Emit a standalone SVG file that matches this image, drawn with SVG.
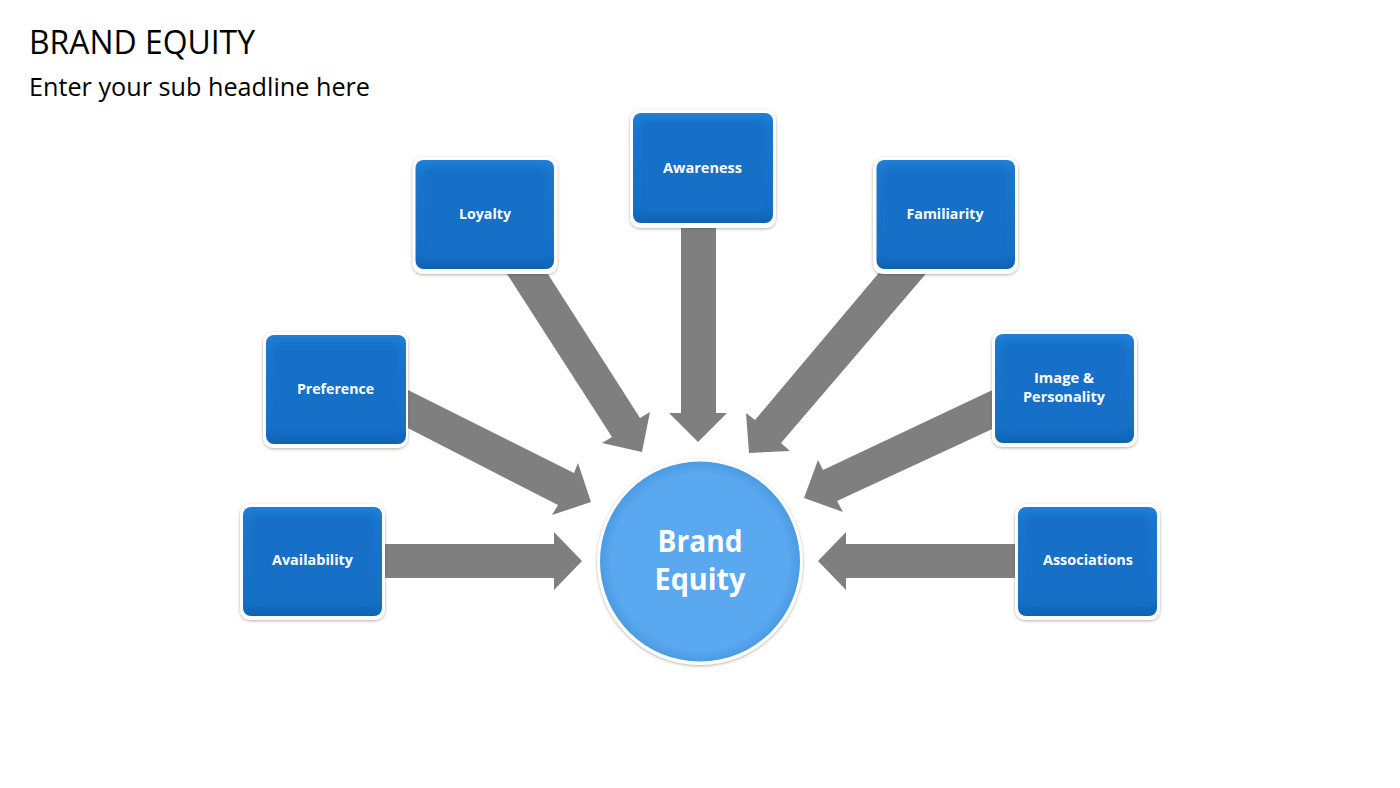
<svg xmlns="http://www.w3.org/2000/svg" width="1400" height="788" viewBox="0 0 1400 788">
<style>
.t{font-family:"Open Sans","Liberation Sans",sans-serif;fill:#000}
.l{font-family:"Open Sans","Liberation Sans",sans-serif;font-weight:700;font-size:15px;fill:#fff;text-anchor:middle}
.c{font-family:"Open Sans","Liberation Sans",sans-serif;font-weight:700;font-size:30px;fill:#fff;text-anchor:middle}
.o{fill:#fff;filter:url(#sh)}
.b{fill:url(#bg)}
.i{fill:#1570c7;filter:url(#bl)}
.a{fill:#7f7f7f}
</style>
<defs>
<linearGradient id="bg" x1="0" y1="0" x2="0" y2="1">
<stop offset="0" stop-color="#1f7fd8"/><stop offset=".15" stop-color="#1a75cc"/><stop offset=".85" stop-color="#1570c6"/><stop offset="1" stop-color="#0f62b4"/>
</linearGradient>
<radialGradient id="cg" cx=".5" cy=".5" r=".5">
<stop offset="0" stop-color="#5aa8ef"/><stop offset=".88" stop-color="#5aa8ef"/><stop offset="1" stop-color="#4b9be4"/>
</radialGradient>
<filter id="sh" x="-15%" y="-15%" width="130%" height="130%"><feDropShadow dx="0" dy="1" stdDeviation="1.8" flood-color="#5a4a3a" flood-opacity=".45"/></filter>
<filter id="bl" x="-10%" y="-10%" width="120%" height="120%"><feGaussianBlur stdDeviation="2.5"/></filter>
</defs>
<rect width="1400" height="788" fill="#fff"/>
<text class="t" x="29" y="54" font-size="32" textLength="226" lengthAdjust="spacingAndGlyphs">BRAND EQUITY</text>
<text class="t" x="29" y="96" font-size="25" textLength="341" lengthAdjust="spacingAndGlyphs">Enter your sub headline here</text>
<g id="connectors">
<polygon class="a" points="380,544 554,544 554,532 582,561 554,590 554,578 380,578"/>
<polygon class="a" points="1020,544 846,544 846,532 818,561 846,590 846,578 1020,578"/>
<polygon class="a" points="681,222 716,222 716,413 727,413 698,442 669,413 681,413"/>
<polygon class="a" points="497,258.500 538,258.500 640,418 650,412 642,452 602,443 612,437"/>
<polygon class="a" points="888,262 936,262 781,443 790,451 749,453 746,413 755,420"/>
<polygon class="a" points="398,385 574,473 578,463 591,502 552,515 558,505 398,423"/>
<polygon class="a" points="1001,386 823,470 818,460 804,498 843,512 837,501 1001,425"/>
</g>
<g id="node-awareness"><rect class="o" x="630" y="110" width="146" height="118" rx="10"/><rect class="b" x="633" y="113" width="140" height="110" rx="8"/><rect class="i" x="642" y="120" width="122" height="92" rx="6"/><text class="l" x="702.500" y="173" textLength="79" lengthAdjust="spacingAndGlyphs">Awareness</text></g>
<g id="node-loyalty"><rect class="o" x="412.500" y="157" width="145" height="117" rx="10"/><rect class="b" x="415.500" y="160" width="138.500" height="109" rx="8"/><rect class="i" x="424" y="167" width="121" height="91" rx="6"/><text class="l" x="485" y="219" textLength="52" lengthAdjust="spacingAndGlyphs">Loyalty</text></g>
<g id="node-familiarity"><rect class="o" x="873" y="157" width="145" height="117" rx="10"/><rect class="b" x="876.500" y="160" width="138.500" height="109" rx="8"/><rect class="i" x="885" y="167" width="121" height="91" rx="6"/><text class="l" x="945" y="219" textLength="77" lengthAdjust="spacingAndGlyphs">Familiarity</text></g>
<g id="node-preference"><rect class="o" x="263" y="332" width="145" height="116" rx="10"/><rect class="b" x="266" y="335" width="140" height="109" rx="8"/><rect class="i" x="275" y="342" width="122" height="91" rx="6"/><text class="l" x="335.500" y="394" textLength="77" lengthAdjust="spacingAndGlyphs">Preference</text></g>
<g id="node-image"><rect class="o" x="992" y="331" width="145" height="116" rx="10"/><rect class="b" x="995" y="334" width="139" height="109" rx="8"/><rect class="i" x="1004" y="341" width="121" height="91" rx="6"/><text class="l" x="1064" y="383" textLength="60" lengthAdjust="spacingAndGlyphs">Image &amp;</text><text class="l" x="1064" y="402" textLength="82" lengthAdjust="spacingAndGlyphs">Personality</text></g>
<g id="node-availability"><rect class="o" x="240" y="504" width="145" height="116" rx="10"/><rect class="b" x="243" y="507" width="139" height="109" rx="8"/><rect class="i" x="252" y="514" width="121" height="91" rx="6"/><text class="l" x="312.500" y="565" textLength="81" lengthAdjust="spacingAndGlyphs">Availability</text></g>
<g id="node-associations"><rect class="o" x="1015" y="504" width="145" height="116" rx="10"/><rect class="b" x="1018" y="507" width="139" height="109" rx="8"/><rect class="i" x="1027" y="514" width="121" height="91" rx="6"/><text class="l" x="1088" y="565" textLength="90" lengthAdjust="spacingAndGlyphs">Associations</text></g>
<g id="node-brand-equity"><circle cx="700" cy="562" r="103" class="o"/><circle cx="700" cy="561.500" r="100" fill="url(#cg)"/><text class="c" x="700" y="552" textLength="85" lengthAdjust="spacingAndGlyphs">Brand</text><text class="c" x="700" y="590" textLength="91" lengthAdjust="spacingAndGlyphs">Equity</text></g>
</svg>
